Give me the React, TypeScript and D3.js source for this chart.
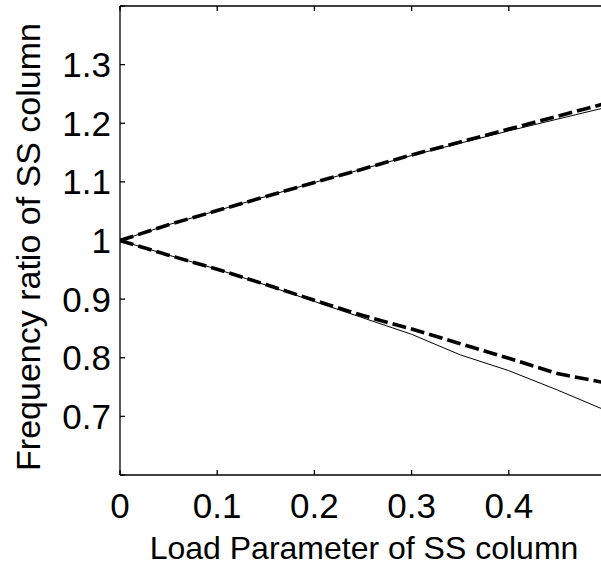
import React from "react";
import * as d3 from "d3";

const xValues = [0, 0.05, 0.1, 0.15, 0.2, 0.25, 0.3, 0.35, 0.4, 0.45, 0.5];
const upperDashed = [1.0, 1.027, 1.051, 1.075, 1.099, 1.122, 1.146, 1.168, 1.19, 1.212, 1.234];
const upperSolid = [1.0, 1.027, 1.051, 1.075, 1.099, 1.122, 1.145, 1.166, 1.187, 1.207, 1.227];
const lowerDashed = [1.0, 0.975, 0.951, 0.925, 0.898, 0.872, 0.849, 0.824, 0.799, 0.773, 0.757];
const lowerSolid = [1.0, 0.975, 0.951, 0.924, 0.896, 0.868, 0.84, 0.805, 0.778, 0.745, 0.71];

const xTicks = [0, 0.1, 0.2, 0.3, 0.4, 0.5];
const xTickLabels = ["0", "0.1", "0.2", "0.3", "0.4", "0.5"];
const yTicks = [0.6, 0.7, 0.8, 0.9, 1.0, 1.1, 1.2, 1.3, 1.4];
const yTickLabels = ["", "0.7", "0.8", "0.9", "1", "1.1", "1.2", "1.3", ""];

const xLabel = "Load Parameter of SS column";
const yLabel = "Frequency ratio of SS column";

const W = 601;
const H = 567;
const left = 120;
const top = 6;
const bottom = 475;
const right = 606;

export default function App() {
  const x = d3.scaleLinear().domain([0, 0.5]).range([left, right]);
  const y = d3.scaleLinear().domain([0.6, 1.4]).range([bottom, top]);
  const line = d3
    .line<number>()
    .x((_, i) => x(xValues[i]))
    .y((d) => y(d));
  const font = "'Liberation Sans', Arial, sans-serif";
  const tickLen = 5;
  return (
    <svg
      width={W}
      height={H}
      style={{ position: "absolute", left: 0, top: 0, background: "#fff" }}
    >
      <defs>
        <clipPath id="plot">
          <rect x={left} y={top} width={right - left} height={bottom - top} />
        </clipPath>
      </defs>
      <rect x={0} y={0} width={W} height={H} fill="#fff" />
      <g clipPath="url(#plot)" fill="none" stroke="#000">
        <path d={line(upperSolid) || ""} strokeWidth={1} />
        <path d={line(lowerSolid) || ""} strokeWidth={1} />
        <path d={line(upperDashed) || ""} strokeWidth={3.6} strokeDasharray="14 5" />
        <path d={line(lowerDashed) || ""} strokeWidth={3.6} strokeDasharray="14 5" />
      </g>
      <g stroke="#000" strokeWidth={1.3} fill="none">
        <line x1={left} y1={top} x2={left} y2={bottom} />
        <line x1={left} y1={bottom} x2={W} y2={bottom} />
        <line x1={left} y1={top} x2={W} y2={top} />
        {xTicks.map((t) => (
          <g key={"xt" + t}>
            <line x1={x(t)} x2={x(t)} y1={bottom} y2={bottom - tickLen} />
            <line x1={x(t)} x2={x(t)} y1={top} y2={top + tickLen} />
          </g>
        ))}
        {yTicks.map((t) => (
          <line key={"yt" + t} x1={left} x2={left + tickLen} y1={y(t)} y2={y(t)} />
        ))}
      </g>
      <g fontFamily={font} fontSize={35} fill="#000">
        {xTicks.map((t, i) =>
          x(t) < W ? (
            <text key={"xl" + t} x={x(t)} y={518} textAnchor="middle">
              {xTickLabels[i]}
            </text>
          ) : null
        )}
        {yTicks.map((t, i) =>
          yTickLabels[i] ? (
            <text key={"yl" + t} x={111} y={y(t)} dy="0.36em" textAnchor="end">
              {yTickLabels[i]}
            </text>
          ) : null
        )}
      </g>
      <text
        fontFamily={font}
        fontSize={32}
        x={364}
        y={559}
        textAnchor="middle"
      >
        {xLabel}
      </text>
      <text
        fontFamily={font}
        fontSize={34}
        transform={`translate(40, 247) rotate(-90)`}
        textAnchor="middle"
      >
        {yLabel}
      </text>
    </svg>
  );
}
